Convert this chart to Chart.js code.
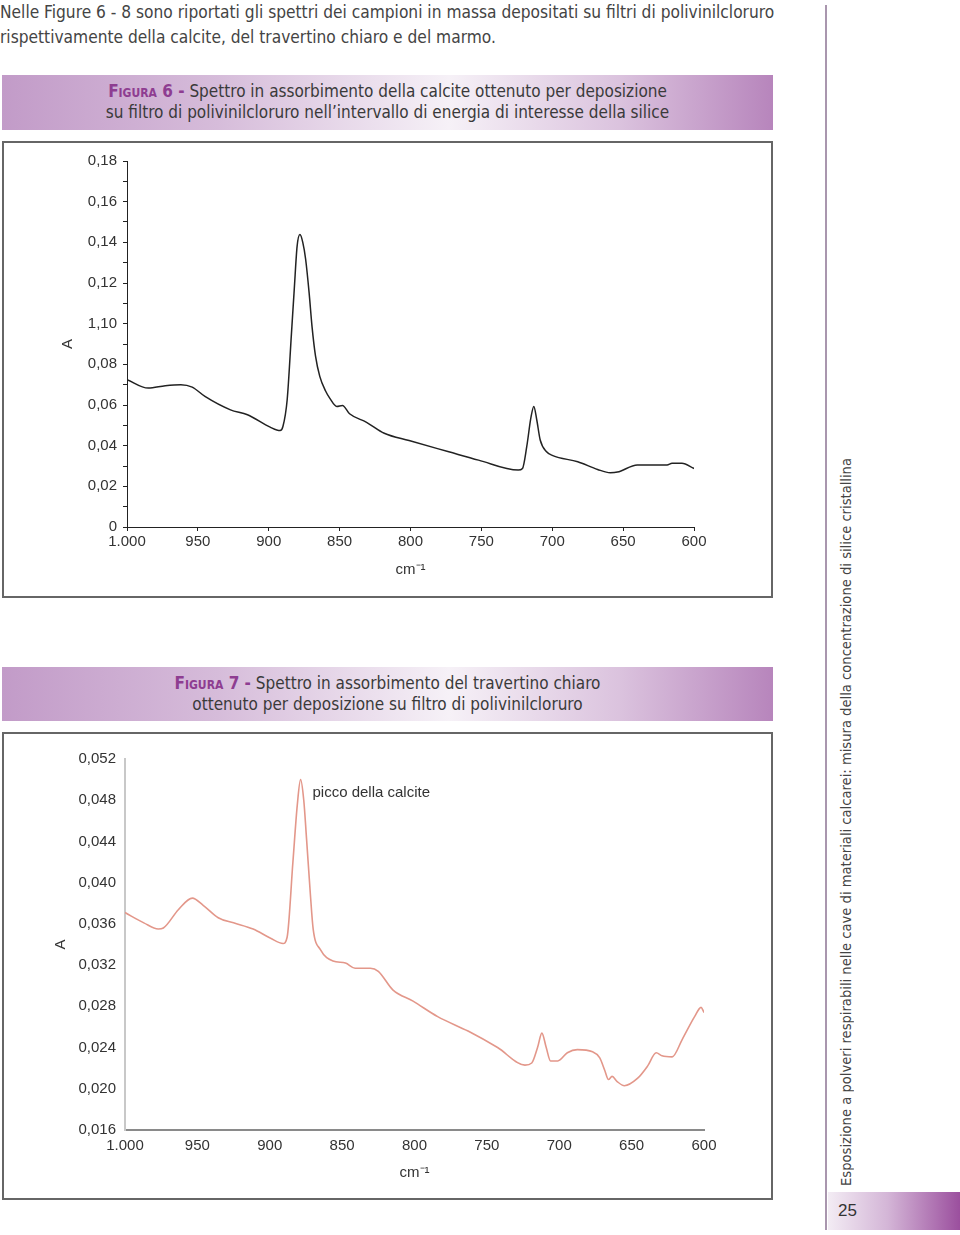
<!DOCTYPE html>
<html lang="it">
<head>
<meta charset="UTF-8">
<title>Figure 6 - 7</title>
<script src="https://cdn.jsdelivr.net/npm/chart.js@4.4.1/dist/chart.umd.min.js"></script>
<style>
    body {
        margin: 0;
        width: 960px;
        height: 1235px;
        position: relative;
        overflow: hidden;
        background: #fff;
        color: #444;
        font-family: 'Liberation Sans Narrow', 'DejaVu Sans Condensed', 'Liberation Sans', sans-serif;
    }

    .intro {
        position: absolute;
        left: 0;
        top: 0;
        font-size: 17.2px;
        line-height: 25px;
        white-space: nowrap;
    }

    .caption {
        position: absolute;
        left: 2px;
        width: 771px;
        height: 55px;
        box-sizing: border-box;
        padding-top: 6px;
        text-align: center;
        font-size: 17px;
        line-height: 21px;
        color: #3a3a3a;
        white-space: nowrap;
        background: linear-gradient(to right, #c29bc8 0%, #d6bcda 28%, #f6f1f7 58%, #dbc3de 80%, #b785bc 100%);
    }

    .caption b {
        color: #8e3d91;
        font-variant: small-caps;
    }

    .box {
        position: absolute;
        left: 2px;
        width: 771px;
        box-sizing: border-box;
        border: 2px solid #666;
    }

    canvas {
        position: absolute;
        left: 2px;
    }

    .rule {
        position: absolute;
        left: 825px;
        top: 5px;
        width: 2px;
        height: 1225px;
        background: #a996ae;
    }

    .side {
        position: absolute;
        left: 837px;
        bottom: 49px;
        writing-mode: vertical-rl;
        transform: rotate(180deg);
        font-size: 14.6px;
        white-space: nowrap;
        color: #444;
    }

    .pageno {
        position: absolute;
        left: 828px;
        top: 1192px;
        width: 132px;
        height: 38px;
        background: linear-gradient(to right, #f3ecf4 0%, #d4b6d7 45%, #9b4f9e 100%);
        font-family: 'Liberation Sans', sans-serif;
        font-size: 17px;
        line-height: 38px;
        color: #333;
        padding-left: 10px;
        box-sizing: border-box;
    }
</style>
</head>
<body>
    <div class="intro">Nelle Figure 6 - 8 sono riportati gli spettri dei campioni in massa depositati su filtri di polivinilcloruro<br>rispettivamente della calcite, del travertino chiaro e del marmo.</div>

    <div class="caption" style="top:75px"><b>Figura 6 -</b> Spettro in assorbimento della calcite ottenuto per deposizione<br>su filtro di polivinilcloruro nell’intervallo di energia di interesse della silice</div>
    <div class="box" style="top:141px;height:457px"></div>
    <canvas id="chart6" width="771" height="457" style="top:141px"></canvas>

    <div class="caption" style="top:667px;height:54px"><b>Figura 7 -</b> Spettro in assorbimento del travertino chiaro<br>ottenuto per deposizione su filtro di polivinilcloruro</div>
    <div class="box" style="top:732px;height:468px"></div>
    <canvas id="chart7" width="771" height="468" style="top:732px"></canvas>

    <div class="rule"></div>
    <div class="side">Esposizione a polveri respirabili nelle cave di materiali calcarei: misura della concentrazione di silice cristallina</div>
    <div class="pageno">25</div>

<script>
    // x tick labels (cm-1), shared by both figures
    const xLabels = ['1.000', '950', '900', '850', '800', '750', '700', '650', '600'];

    // Figura 6 - calcite
    const yLabels6 = ['0', '0,02', '0,04', '0,06', '0,08', '1,10', '0,12', '0,14', '0,16', '0,18'];
    const wn6 = [1000, 985, 973, 962, 954, 945, 927, 915, 899, 892, 890, 887, 884, 882, 880, 878, 876, 874, 871.5, 869.5, 867, 864, 860, 857, 852, 848, 843, 831, 818.5, 801, 773, 752, 724, 721, 718, 715, 713, 711, 708.5, 704, 699.6, 682, 668, 659, 654, 640, 619, 615.5, 608.5, 600];
    const abs6 = [0.0725, 0.0683, 0.0695, 0.0700, 0.0688, 0.0642, 0.0576, 0.0552, 0.0491, 0.0474, 0.0494, 0.0626, 0.0950, 0.1170, 0.1380, 0.1438, 0.1400, 0.1318, 0.1150, 0.0988, 0.0840, 0.0741, 0.0670, 0.0634, 0.0593, 0.0598, 0.0557, 0.0515, 0.0461, 0.0425, 0.0370, 0.0329, 0.0280, 0.0288, 0.0395, 0.0540, 0.0593, 0.0530, 0.0428, 0.0370, 0.0351, 0.0321, 0.0283, 0.0267, 0.0270, 0.0305, 0.0305, 0.0313, 0.0313, 0.0288];

    // Figura 7 - travertino chiaro
    const yLabels7 = ['0,016', '0,020', '0,024', '0,028', '0,032', '0,036', '0,040', '0,044', '0,048', '0,052'];
    const wn7 = [1000, 987, 977, 973.5, 963, 953.5, 946, 935.6, 925, 911.5, 899.4, 890.8, 888, 884, 881, 878.7, 876.5, 874.6, 872, 870, 865, 856.3, 847.7, 841, 830.5, 825, 815, 801, 784, 763, 742.6, 723.7, 719, 715, 712, 709, 706, 701, 694.4, 687.5, 677, 672, 668.6, 666, 663.5, 660, 655, 646, 639, 633, 629, 622, 615, 606.5, 602, 600];
    const abs7 = [0.0371, 0.0361, 0.0355, 0.0356, 0.0374, 0.0385, 0.0378, 0.0366, 0.0361, 0.0355, 0.0346, 0.0341, 0.0347, 0.0420, 0.0475, 0.0500, 0.0480, 0.0443, 0.0390, 0.0355, 0.0335, 0.0324, 0.0322, 0.0317, 0.0317, 0.0314, 0.0296, 0.0285, 0.0270, 0.0256, 0.0240, 0.0223, 0.0225, 0.0240, 0.0254, 0.0240, 0.0227, 0.0227, 0.0235, 0.0238, 0.0236, 0.0230, 0.0218, 0.0209, 0.0212, 0.0207, 0.0203, 0.0210, 0.0222, 0.0235, 0.0232, 0.0231, 0.0248, 0.0270, 0.0279, 0.0274];

    const noteText = 'picco della calcite';
    const noteAt = [870.5, 0.0487];

    Chart.defaults.font.family = "'Liberation Sans', Arial, sans-serif";
    Chart.defaults.font.size = 15;
    Chart.defaults.color = '#333';

    const toPoints = (xs, ys) => xs.map((x, i) => ({ x: x, y: ys[i] }));

    const noteLabel = {
        id: 'noteLabel',
        afterDatasetsDraw(chart) {
            const { ctx, scales: { x, y } } = chart;
            ctx.save();
            ctx.font = "15px 'Liberation Sans', Arial, sans-serif";
            ctx.fillStyle = '#333';
            ctx.textBaseline = 'middle';
            ctx.fillText(noteText, x.getPixelForValue(noteAt[0]), y.getPixelForValue(noteAt[1]));
            ctx.restore();
        }
    };

    function xScale(opts) {
        return {
            type: 'linear',
            min: 600,
            max: 1000,
            reverse: true,
            afterFit: (s) => { s.height = opts.height; },
            grid: { drawOnChartArea: false, drawTicks: opts.ticks, tickLength: 4, color: opts.color },
            border: { display: true, color: opts.color, width: opts.width },
            ticks: {
                stepSize: 50,
                autoSkip: false,
                maxRotation: 0,
                padding: opts.pad,
                color: '#333',
                callback: (v) => xLabels[Math.round((1000 - v) / 50)]
            },
            title: { display: true, text: 'cm⁻¹', color: '#333', padding: { bottom: opts.titlePad } }
        };
    }

    // Figura 6
    new Chart(document.getElementById('chart6'), {
        type: 'line',
        data: {
            datasets: [{
                data: toPoints(wn6, abs6),
                borderColor: '#222',
                borderWidth: 1.5,
                pointRadius: 0,
                cubicInterpolationMode: 'monotone'
            }]
        },
        options: {
            responsive: false,
            animation: false,
            layout: { padding: { top: 20, right: 79, left: 0, bottom: 0 } },
            plugins: { legend: { display: false }, tooltip: { enabled: false } },
            scales: {
                x: xScale({ height: 71, ticks: true, color: '#222', width: 1, pad: 2, titlePad: 19 }),
                y: {
                    min: 0,
                    max: 0.18,
                    afterFit: (s) => { s.width = 125; },
                    grid: { drawOnChartArea: false, tickLength: 4, color: '#222' },
                    border: { display: true, color: '#222' },
                    ticks: {
                        stepSize: 0.01,
                        autoSkip: false,
                        padding: 6,
                        color: '#333',
                        callback: (v) => {
                            const i = Math.round(v / 0.01);
                            return i % 2 === 0 ? yLabels6[i / 2] : '';
                        }
                    },
                    title: { display: true, text: 'A', color: '#333', padding: { top: 57 } }
                }
            }
        }
    });

    // Figura 7
    new Chart(document.getElementById('chart7'), {
        type: 'line',
        data: {
            datasets: [{
                data: toPoints(wn7, abs7),
                borderColor: '#e3978a',
                borderWidth: 1.6,
                pointRadius: 0,
                cubicInterpolationMode: 'monotone'
            }]
        },
        options: {
            responsive: false,
            animation: false,
            layout: { padding: { top: 27, right: 69, left: 0, bottom: 0 } },
            plugins: { legend: { display: false }, tooltip: { enabled: false } },
            scales: {
                x: xScale({ height: 70, ticks: false, color: '#8a8a8a', width: 2, pad: 7, titlePad: 18 }),
                y: {
                    min: 0.016,
                    max: 0.052,
                    afterFit: (s) => { s.width = 123; },
                    grid: { drawOnChartArea: false, drawTicks: false },
                    border: { display: true, color: '#c8c8c8', width: 2 },
                    ticks: {
                        stepSize: 0.004,
                        autoSkip: false,
                        padding: 9,
                        color: '#333',
                        callback: (v) => yLabels7[Math.round((v - 0.016) / 0.004)]
                    },
                    title: { display: true, text: 'A', color: '#333', padding: { top: 50 } }
                }
            }
        },
        plugins: [noteLabel]
    });
</script>
</body>
</html>
